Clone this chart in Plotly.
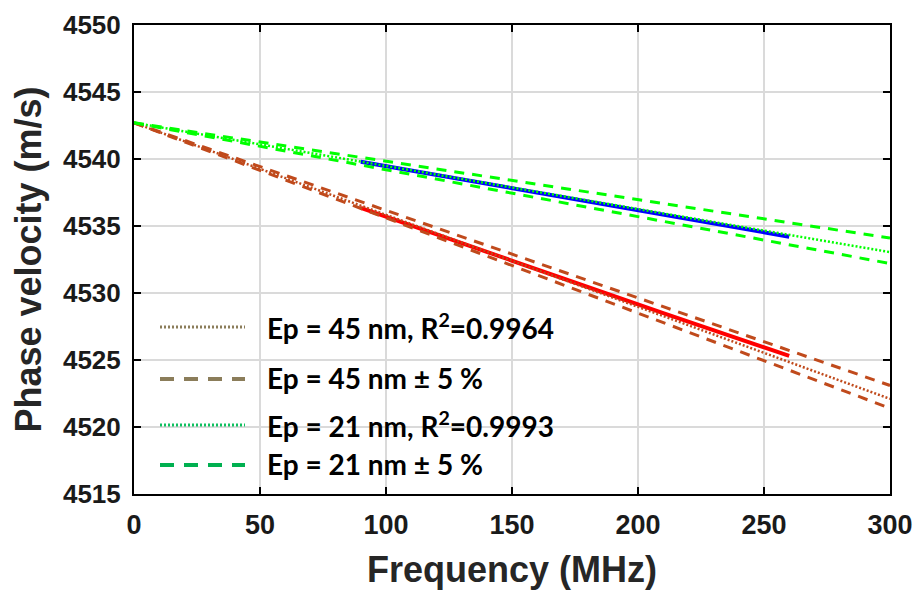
import plotly.graph_objects as go

# ---------------- data ----------------
freq_model = [0, 300]
v45_fit = [4542.7, 4522.1]
v45_up = [4542.7, 4523.1]
v45_lo = [4542.7, 4521.4]
v21_fit = [4542.7, 4533.05]
v21_up = [4542.7, 4534.1]
v21_lo = [4542.7, 4532.2]

freq_meas = [90, 130, 170, 210, 260]
v45_meas = [4536.35, 4533.7, 4531.1, 4528.5, 4525.3]
v21_meas = [4539.8, 4538.5, 4537.2, 4535.85, 4534.2]

legend_labels = [
    "Ep = 45 nm, R<sup>2</sup>=0.9964",
    "Ep = 45 nm ± 5 %",
    "Ep = 21 nm, R<sup>2</sup>=0.9993",
    "Ep = 21 nm ± 5 %",
]
x_ticks = [0, 50, 100, 150, 200, 250, 300]
y_ticks = [4515, 4520, 4525, 4530, 4535, 4540, 4545, 4550]

# ---------------- style ----------------
BROWN = "#C04A1C"
GREEN = "#00FF00"
legend_colors = ["#8B7D5A", "#8B7D5A", "#10C060", "#00B050"]
legend_dash = ["2px,2px", "14px,10px", "2px,2px", "14px,10px"]
legend_width = [3, 4, 3, 4]

W, H = 921, 590
ML, MR, MT, MB = 134, 31, 25, 96
PW, PH = W - ML - MR, H - MT - MB

fig = go.Figure()

fig.add_trace(go.Scatter(x=freq_meas, y=v45_meas, mode="lines",
                         line=dict(color="#FF0000", width=4), showlegend=False))
fig.add_trace(go.Scatter(x=freq_meas, y=v21_meas, mode="lines",
                         line=dict(color="#0000FF", width=4), showlegend=False))

for ys in (v45_fit,):
    fig.add_trace(go.Scatter(x=freq_model, y=ys, mode="lines",
                             line=dict(color=BROWN, width=2.5, dash="2px,2px"), showlegend=False))
for ys in (v21_fit,):
    fig.add_trace(go.Scatter(x=freq_model, y=ys, mode="lines",
                             line=dict(color=GREEN, width=2.5, dash="2px,2px"), showlegend=False))
for ys in (v45_up, v45_lo):
    fig.add_trace(go.Scatter(x=freq_model, y=ys, mode="lines",
                             line=dict(color=BROWN, width=3, dash="10px,8px"), showlegend=False))
for ys in (v21_up, v21_lo):
    fig.add_trace(go.Scatter(x=freq_model, y=ys, mode="lines",
                             line=dict(color=GREEN, width=3, dash="10px,8px"), showlegend=False))

# ---------------- manual legend (paper coordinates) ----------------
def px2x(p):
    return (p - ML) / PW

def py2y(p):
    return (MT + PH - p) / PH

legend_rows_px = [327, 379, 425, 465]
for lab, col, dsh, lw, ry in zip(legend_labels, legend_colors, legend_dash, legend_width, legend_rows_px):
    fig.add_shape(type="line", xref="paper", yref="paper",
                  x0=px2x(160), x1=px2x(245), y0=py2y(ry), y1=py2y(ry),
                  line=dict(color=col, width=lw, dash=dsh))
    fig.add_annotation(xref="paper", yref="paper", x=px2x(265), y=py2y(ry - 1),
                       text=lab, showarrow=False, xanchor="left", yanchor="middle",
                       font=dict(family="Lato, Open Sans, sans-serif", size=28,
                                 color="black", weight="bold"))

AX_FONT = "Liberation Sans, Arial, sans-serif"
fig.update_xaxes(range=[0, 300], tickvals=x_ticks, ticks="inside", ticklen=7, tickwidth=2,
                 tickcolor="black", showline=True, linecolor="black", linewidth=2,
                 mirror="allticks", showgrid=True, gridcolor="#DADADA", gridwidth=1.5,
                 zeroline=False, ticklabelstandoff=6,
                 tickfont=dict(family=AX_FONT, size=27, color="#1a1a1a", weight="bold"),
                 title=dict(text="Frequency (MHz)", standoff=17,
                            font=dict(family=AX_FONT, size=36, color="#262626", weight="bold")))
fig.update_yaxes(range=[4515, 4550], tickvals=y_ticks, ticks="inside", ticklen=7, tickwidth=2,
                 tickcolor="black", showline=True, linecolor="black", linewidth=2,
                 mirror="allticks", showgrid=True, gridcolor="#DADADA", gridwidth=1.5,
                 zeroline=False, ticklabelstandoff=6,
                 tickfont=dict(family=AX_FONT, size=26, color="#1a1a1a", weight="bold"),
                 title=dict(text="Phase velocity (m/s)", standoff=10,
                            font=dict(family=AX_FONT, size=36, color="#262626", weight="bold")))

fig.update_layout(width=W, height=H, margin=dict(l=ML, r=MR, t=MT, b=MB, autoexpand=False),
                  paper_bgcolor="white", plot_bgcolor="white", showlegend=False)

fig.write_html("out.html", config={"displayModeBar": False, "staticPlot": True},
               post_script="document.body.style.margin='0';document.body.style.padding='0';")
